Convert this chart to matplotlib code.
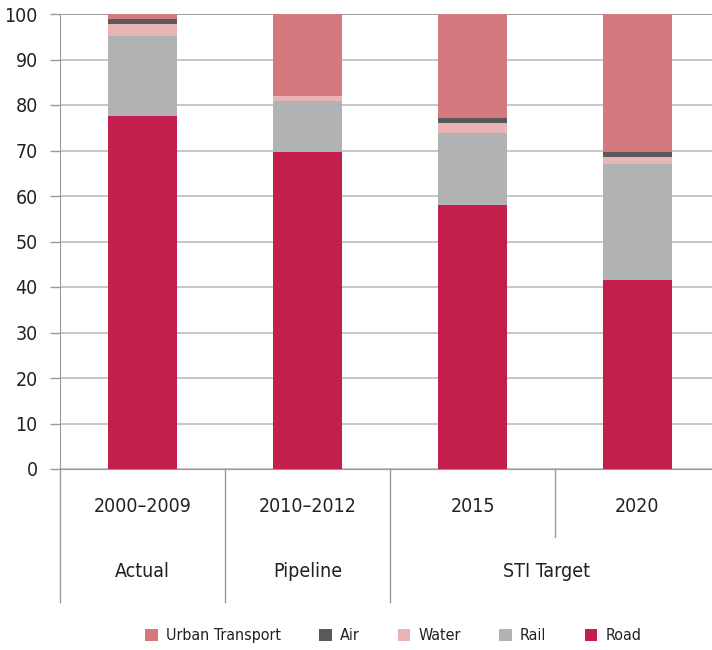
import numpy as np
import matplotlib
matplotlib.use('Agg')
import matplotlib.pyplot as plt
import matplotlib.transforms as mtransforms

plt.rcParams['font.family'] = ['DejaVu Sans']
plt.rcParams['font.stretch'] = 'condensed'
plt.rcParams['font.size'] = 12

# Data (share of investment, %)
periods = ['2000\u20132009', '2010\u20132012', '2015', '2020']
groups = ['Actual', 'Pipeline', 'STI Target']
road = [77.6, 69.7, 58.0, 41.5]
rail = [17.6, 11.2, 15.8, 25.5]
water = [2.6, 1.1, 2.2, 1.5]
air = [1.1, 0.0, 1.1, 1.2]
urban = [1.1, 18.0, 22.9, 30.3]

series = [('Road', road, '#C41E4C'),
          ('Rail', rail, '#B1B2B4'),
          ('Water', water, '#E8B5B4'),
          ('Air', air, '#58595B'),
          ('Urban Transport', urban, '#D4797D')]

fig = plt.figure(figsize=(7.12, 6.5), dpi=100)
ax = fig.add_axes([60 / 712, 1 - 469 / 650, 660 / 712, 455 / 650])

x = np.arange(len(periods))
bottom = np.zeros(len(periods))
handles = {}
for name, vals, col in series:
    b = ax.bar(x, vals, width=0.42, bottom=bottom, color=col, label=name, zorder=3)
    handles[name] = b
    bottom += np.array(vals)

ax.set_ylim(0, 100)
ax.set_xlim(-0.5, 3.5)
ax.set_yticks(range(0, 101, 10))
ax.grid(axis='y', color='#BDBDBD', linewidth=1.2, zorder=0)
ax.tick_params(axis='y', length=7, color='#999999', width=1, pad=9, labelsize=14,
               labelcolor='#222222')
ax.tick_params(axis='x', length=0, labelbottom=False)
for s in ['top', 'right']:
    ax.spines[s].set_visible(False)
ax.spines['left'].set_color('#999999')
ax.spines['bottom'].set_color('#999999')
ax.get_ygridlines()[-1].set_color('#8C8C8C')

# category separators and labels below the axis
trans = mtransforms.blended_transform_factory(ax.transData, ax.transAxes)
for xs in [-0.5, 0.5, 1.5]:
    ax.plot([xs, xs], [0, -0.292], color='#999999', lw=1, transform=trans, clip_on=False)
ax.plot([2.5, 2.5], [0, -0.149], color='#999999', lw=1, transform=trans, clip_on=False)

for i, p in enumerate(periods):
    ax.text(i, -0.0835, p, transform=trans, ha='center', va='center', fontsize=14, color='#222222')
for gx, g in zip([0, 1, 2.45], groups):
    ax.text(gx, -0.226, g, transform=trans, ha='center', va='center', fontsize=14, color='#222222')

order = ['Urban Transport', 'Air', 'Water', 'Rail', 'Road']
fig.legend([handles[n] for n in order], order, loc='center', bbox_to_anchor=(0.552, 0.022),
           ncol=5, frameon=False, fontsize=11.5, handlelength=0.8, handleheight=0.8,
           columnspacing=2.4, handletextpad=0.5, labelcolor='#222222')

fig.savefig('out.png', dpi=100)
